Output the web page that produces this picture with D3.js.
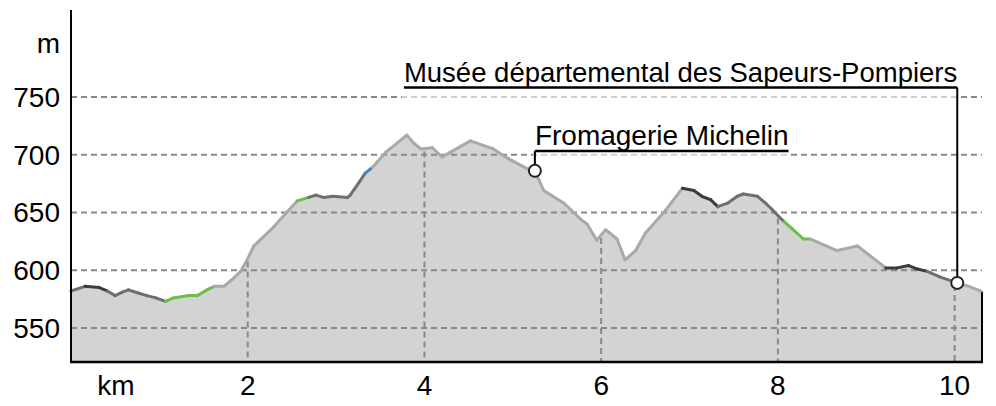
<!DOCTYPE html>
<html>
<head>
<meta charset="utf-8">
<script src="https://cdn.jsdelivr.net/npm/d3@7"></script>
<style>
  body { margin: 0; background: #fff; }
  svg { display: block; font-family: "Liberation Sans", Arial, sans-serif; }
</style>
</head>
<body>
<svg id="chart" width="996" height="406"></svg>
<script>
// distance along the route (km) and elevation (m)
var distKm = [0.00, 0.16, 0.32, 0.41, 0.50, 0.58, 0.65, 0.77, 0.86, 0.96,
              1.07, 1.16, 1.33, 1.43, 1.54, 1.62, 1.73, 1.84, 1.92, 1.98,
              2.07, 2.18, 2.30, 2.43, 2.56, 2.69, 2.77, 2.86, 2.96, 3.13,
              3.16, 3.26, 3.33, 3.41, 3.47, 3.56, 3.69, 3.80, 3.88, 3.96,
              4.09, 4.20, 4.29, 4.52, 4.78, 4.94, 5.16, 5.25, 5.35, 5.58,
              5.77, 5.84, 5.95, 6.05, 6.18, 6.27, 6.39, 6.50, 6.73, 6.92,
              7.05, 7.14, 7.24, 7.32, 7.43, 7.54, 7.61, 7.77, 7.86, 7.93,
              8.03, 8.07, 8.16, 8.29, 8.37, 8.67, 8.90, 9.22, 9.35, 9.48,
              9.58, 9.69, 9.84, 10.03, 10.16, 10.29, 10.31];
var elevM = [582, 586, 585, 582, 578, 581, 583, 580, 578, 576,
             573, 576, 578, 578, 583, 586, 586, 593, 599, 607,
             621, 629, 638, 649, 660, 663, 665, 663, 664, 663,
             665, 676, 684, 689, 694, 702, 710, 717, 710, 705,
             706, 698, 702, 712, 705, 697, 688, 686, 669, 658,
             644, 640, 626, 635, 627, 609, 617, 632, 652, 671,
             669, 664, 661, 655, 658, 664, 666, 664, 658, 653,
             645, 642, 636, 627, 627, 617, 621, 602, 602, 604,
             601, 599, 594, 589, 586, 582, 581];
// surface class of the segment starting at each point
var surface = ["m", "d", "d", "m", "m", "m", "m", "m", "m", "m",
               "g", "g", "g", "g", "g", "l", "l", "l", "l", "l",
               "l", "l", "l", "l", "g", "m", "m", "m", "m", "m",
               "m", "m", "b", "l", "l", "l", "l", "l", "l", "l",
               "l", "l", "l", "l", "l", "l", "l", "l", "l", "l",
               "l", "l", "l", "l", "l", "l", "l", "l", "l", "d",
               "d", "d", "d", "m", "m", "m", "m", "m", "m", "m",
               "m", "g", "g", "g", "l", "l", "l", "d", "d", "d",
               "d", "m", "m", "l", "l", "l"];

var yTicks = [550, 600, 650, 700, 750];
var xTicks = [2, 4, 6, 8, 10];
var poiNames = ["Fromagerie Michelin", "Musée départemental des Sapeurs-Pompiers"];
var poiKm = [5.25, 10.03];

var surfaceColor = {l: "#a9a9a9", m: "#6f6f6f", d: "#3b3b3b", g: "#6abf4b", b: "#4a80cf"};
// label placement: side of the marker and height of the underline
var poiLayout = [{anchor: "start", lineY: 151, size: 28}, {anchor: "end", lineY: 87.5, size: 27.5}];

var svg = d3.select("#chart");
var plotL = 71, plotR = 982, plotT = 10, plotB = 362;

var x = d3.scaleLinear().domain([0, 10.31]).range([plotL, plotR]);
var y = d3.scaleLinear().domain([520.5, 825.3]).range([plotB, plotT]);

var pts = distKm.map(function(d, i) { return {km: d, m: elevM[i]}; });
var bis = d3.bisector(function(d) { return d.km; }).left;
function elevAt(km) {
  var i = Math.max(1, Math.min(pts.length - 1, bis(pts, km)));
  var a = pts[i - 1], b = pts[i];
  return a.m + (b.m - a.m) * (km - a.km) / (b.km - a.km);
}

// filled profile
var area = d3.area().x(function(d) { return x(d.km); }).y0(plotB).y1(function(d) { return y(d.m); });
svg.append("path").datum(pts).attr("d", area).attr("fill", "#d3d3d3");

// grid
svg.append("g").selectAll("line").data(yTicks).enter().append("line")
  .attr("x1", plotL).attr("x2", plotR)
  .attr("y1", function(d) { return y(d); }).attr("y2", function(d) { return y(d); })
  .attr("stroke", "#888").attr("stroke-width", 2).attr("stroke-dasharray", "6,4");
svg.append("g").selectAll("line").data(xTicks).enter().append("line")
  .attr("x1", function(d) { return x(d); }).attr("x2", function(d) { return x(d); })
  .attr("y1", function(d) { return y(elevAt(d)) + 3; }).attr("y2", plotB)
  .attr("stroke", "#888").attr("stroke-width", 2).attr("stroke-dasharray", "6,4");

// profile line, coloured by surface
var segs = d3.range(pts.length - 1).map(function(i) { return {a: pts[i], b: pts[i + 1], s: surface[i]}; });
svg.append("g").selectAll("line").data(segs).enter().append("line")
  .attr("x1", function(d) { return x(d.a.km); }).attr("y1", function(d) { return y(d.a.m); })
  .attr("x2", function(d) { return x(d.b.km); }).attr("y2", function(d) { return y(d.b.m); })
  .attr("stroke", function(d) { return surfaceColor[d.s]; })
  .attr("stroke-width", 3).attr("stroke-linecap", "round");

// axes
svg.append("line").attr("x1", plotL).attr("x2", plotL).attr("y1", plotT).attr("y2", plotB + 1)
  .attr("stroke", "#000").attr("stroke-width", 2);
svg.append("line").attr("x1", plotL - 1).attr("x2", plotR + 1).attr("y1", plotB).attr("y2", plotB)
  .attr("stroke", "#000").attr("stroke-width", 2.5);
svg.append("line").attr("x1", plotR).attr("x2", plotR).attr("y1", y(elevM[elevM.length - 1])).attr("y2", plotB)
  .attr("stroke", "#000").attr("stroke-width", 2);

svg.append("g").selectAll("text").data(yTicks).enter().append("text")
  .attr("x", 60).attr("y", function(d) { return y(d) + 10; })
  .attr("text-anchor", "end").attr("font-size", 28).text(function(d) { return d; });
svg.append("text").attr("x", 60).attr("y", 53).attr("text-anchor", "end").attr("font-size", 28).text("m");

svg.append("g").selectAll("text").data(xTicks).enter().append("text")
  .attr("x", function(d) { return x(d); }).attr("y", 395)
  .attr("text-anchor", "middle").attr("font-size", 28).text(function(d) { return d; });
svg.append("text").attr("x", 116).attr("y", 395).attr("text-anchor", "middle").attr("font-size", 28).text("km");

// points of interest
poiNames.forEach(function(name, i) {
  var px = x(poiKm[i]), py = y(elevAt(poiKm[i]));
  var L = poiLayout[i];
  var g = svg.append("g");
  var bg = g.append("rect").attr("fill", "#fff").attr("opacity", 0.6);
  var t = g.append("text").attr("x", px).attr("y", L.lineY - 6)
    .attr("text-anchor", L.anchor).attr("font-size", L.size).text(name);
  var w = t.node().getComputedTextLength();
  var x0 = L.anchor === "start" ? px : px - w;
  bg.attr("x", x0 - 2).attr("y", L.lineY - 30).attr("width", w + 4).attr("height", 42);
  g.append("line").attr("x1", x0).attr("x2", x0 + w).attr("y1", L.lineY).attr("y2", L.lineY)
    .attr("stroke", "#000").attr("stroke-width", 2.5);
  g.append("line").attr("x1", px).attr("x2", px).attr("y1", L.lineY).attr("y2", py - 6)
    .attr("stroke", "#000").attr("stroke-width", 2);
  g.append("circle").attr("cx", px).attr("cy", py).attr("r", 6)
    .attr("fill", "#fff").attr("stroke", "#222").attr("stroke-width", 2);
});
</script>
</body>
</html>
